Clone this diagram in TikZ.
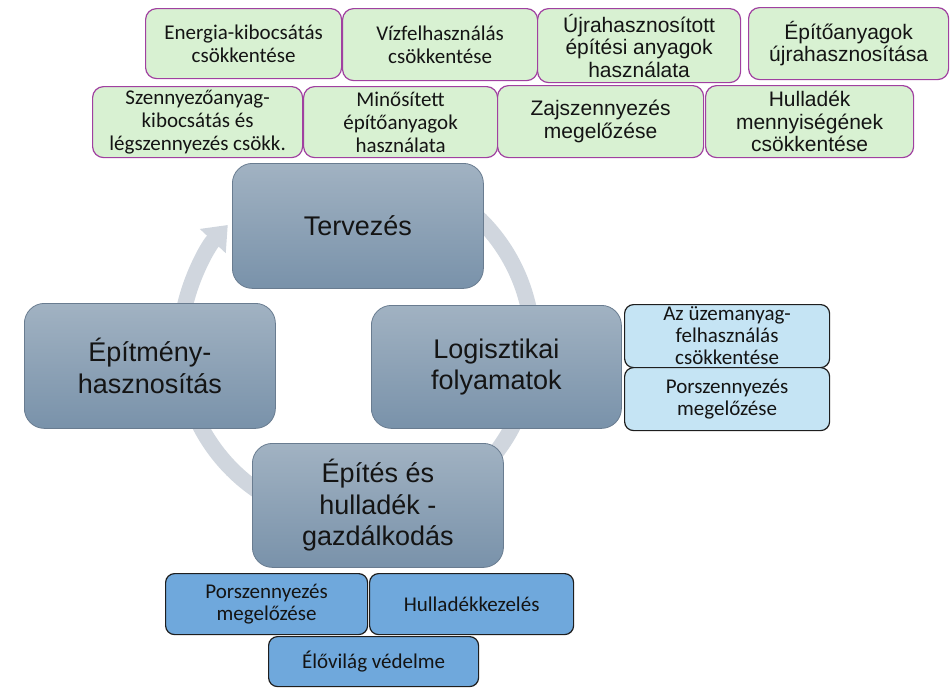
\documentclass[tikz,border=0pt]{standalone}
\usepackage{fontspec}
\setmainfont{Liberation Sans}
\newfontfamily\calibri{Carlito}
\usetikzlibrary{arrows.meta}
\definecolor{gfill}{RGB}{216,241,210}
\definecolor{gborder}{RGB}{160,64,160}
\definecolor{mtop}{RGB}{161,178,194}
\definecolor{mbot}{RGB}{121,146,170}
\definecolor{mborder}{RGB}{105,124,144}
\definecolor{ringc}{RGB}{208,214,222}
\definecolor{lbfill}{RGB}{197,228,244}
\definecolor{bfill}{RGB}{111,168,220}
\definecolor{dborder}{RGB}{30,30,30}
\definecolor{txt}{RGB}{20,20,20}
\tikzset{
  box/.style={anchor=north west, inner sep=0pt, align=center, text=txt},
  greenbox/.style={box, draw=gborder, fill=gfill, line width=1.2pt, rounded corners=11pt},
  calfont/.style={font=\calibri\fontsize{21}{23}\selectfont},
  arialfont/.style={font=\fontsize{21}{22.5}\selectfont},
  mainbox/.style={box, draw=mborder, line width=0.8pt, top color=mtop, bottom color=mbot, rounded corners=20pt, font=\fontsize{27}{31.5}\selectfont},
  lbbox/.style={box, draw=dborder, fill=lbfill, line width=1.2pt, rounded corners=9pt, font=\calibri\fontsize{21}{22}\selectfont},
  bbox/.style={box, draw=dborder, fill=bfill, line width=1.2pt, rounded corners=9pt, font=\calibri\fontsize{21}{21.5}\selectfont},
  cyclearrow/.style={draw=ringc, line width=16pt, -{Triangle[width=34pt,length=22pt]}}
}
\begin{document}
\begin{tikzpicture}[x=1pt,y=1pt]
\useasboundingbox (0,0) rectangle (950,-688);
% cycle ring
\coordinate (rc) at (356.5,-345);
\draw[cyclearrow] ([shift={(75:176)}]rc) arc[start angle=75,end angle=-223,radius=176];
% main boxes
\node[mainbox, minimum width=251pt, minimum height=125pt] (terv) at (232,-163) {Tervezés};
\node[mainbox, minimum width=251pt, minimum height=125pt] (epitm) at (24,-303) {Építmény-\\hasznosítás};
\node[mainbox, minimum width=250pt, minimum height=123pt] (logi) at (371,-305) {Logisztikai\\folyamatok};
\node[mainbox, minimum width=251pt, minimum height=124pt] (epites) at (252,-443) {Építés és\\hulladék -\\gazdálkodás};
% green boxes row 1
\node[greenbox, calfont, minimum width=196pt, minimum height=70pt] (g1) at (145,-8) {Energia-kibocsátás\\csökkentése};
\node[greenbox, calfont, minimum width=195pt, minimum height=72pt] (g2) at (342,-8) {Vízfelhasználás\\csökkentése};
\node[greenbox, arialfont, minimum width=203pt, minimum height=74pt] (g3) at (537,-8) {Újrahasznosított\\építési anyagok\\használata};
\node[greenbox, arialfont, minimum width=200pt, minimum height=72pt] (g4) at (748,-7) {Építőanyagok\\újrahasznosítása};
% green boxes row 2
\node[greenbox, calfont, minimum width=210pt, minimum height=71pt] (g5) at (92,-86) {Szennyezőanyag-\\kibocsátás és\\légszennyezés csökk.};
\node[greenbox, calfont, minimum width=194pt, minimum height=71pt] (g6) at (303,-86) {Minősített\\építőanyagok\\használata};
\node[greenbox, arialfont, minimum width=206pt, minimum height=72pt] (g7) at (497,-85) {Zajszennyezés\\megelőzése};
\node[greenbox, arialfont, minimum width=208pt, minimum height=72pt] (g8) at (705,-85) {Hulladék\\mennyiségének\\csökkentése};
% light blue boxes
\node[lbbox, minimum width=205pt, minimum height=63pt] (lb1) at (624,-304) {Az üzemanyag-\\felhasználás\\csökkentése};
\node[lbbox, minimum width=205pt, minimum height=63pt] (lb2) at (624,-367) {Porszennyezés\\megelőzése};
% blue boxes
\node[bbox, minimum width=202pt, minimum height=61pt] (b1) at (165,-573) {Porszennyezés\\megelőzése};
\node[bbox, minimum width=204pt, minimum height=61pt] (b2) at (369,-573) {Hulladékkezelés};
\node[bbox, minimum width=210pt, minimum height=50pt] (b3) at (268,-636) {Élővilág védelme};
\end{tikzpicture}
\end{document}
